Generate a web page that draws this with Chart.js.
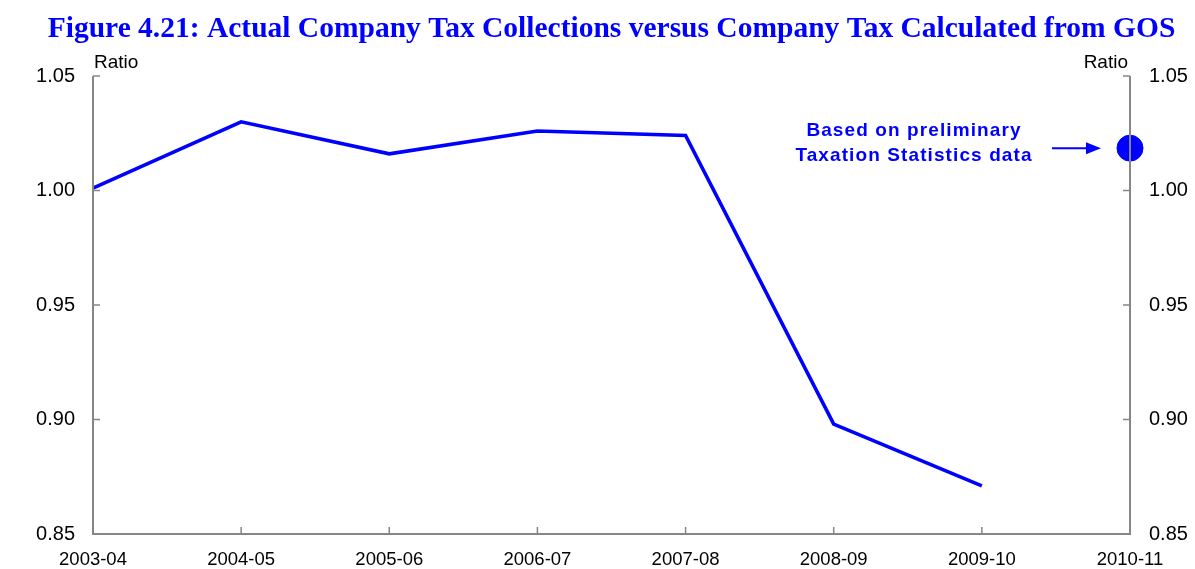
<!DOCTYPE html>
<html><head><meta charset="utf-8">
<script src="https://cdn.jsdelivr.net/npm/chart.js@4"></script>
<style>html,body{margin:0;padding:0;background:#fff}#wrap{width:1195px;height:569px}</style>
</head><body><div id="wrap"><canvas id="c"></canvas></div>
<script>
const categories = ['2003-04','2004-05','2005-06','2006-07','2007-08','2008-09','2009-10','2010-11'];
const ratioSeries = [1.001, 1.030, 1.016, 1.026, 1.024, 0.898, 0.871, null];
const preliminarySeries = [null, null, null, null, null, null, null, 1.0185];
const yTicks = [0.85, 0.90, 0.95, 1.00, 1.05];
const titleText = 'Figure 4.21: Actual Company Tax Collections versus Company Tax Calculated from GOS';
const axisUnit = 'Ratio';
const noteLines = ['Based on preliminary', 'Taxation Statistics data'];

const BLUE = '#0000FF';
const AXIS = '#868686';

const deco = {
  id: 'deco',
  afterDraw(chart) {
    const ctx = chart.ctx, a = chart.chartArea;
    const x = chart.scales.x, y = chart.scales.y;
    ctx.save();
    ctx.strokeStyle = AXIS; ctx.lineWidth = 2;
    ctx.beginPath();
    ctx.moveTo(a.left, a.top); ctx.lineTo(a.left, a.bottom); ctx.lineTo(a.right, a.bottom); ctx.lineTo(a.right, a.top);
    ctx.stroke();
    ctx.lineWidth = 1.5;
    ctx.beginPath();
    yTicks.forEach(v => {
      const py = y.getPixelForValue(v);
      ctx.moveTo(a.left, py); ctx.lineTo(a.left + 7, py);
      ctx.moveTo(a.right, py); ctx.lineTo(a.right - 7, py);
    });
    categories.forEach((c, i) => {
      const px = x.getPixelForValue(i);
      ctx.moveTo(px, a.bottom); ctx.lineTo(px, a.bottom - 7);
    });
    ctx.stroke();
    ctx.fillStyle = '#000';
    ctx.font = '19px "Liberation Sans", Arial, sans-serif';
    ctx.textBaseline = 'alphabetic';
    ctx.textAlign = 'left';
    ctx.fillText(axisUnit, a.left + 1, a.top - 8);
    ctx.textAlign = 'right';
    ctx.fillText(axisUnit, a.right - 2, a.top - 8);
    const meta = chart.getDatasetMeta(1);
    const pt = meta.data[categories.length - 1];
    if (pt) {
      ctx.fillStyle = BLUE;
      ctx.font = 'bold 19px "Liberation Sans", Arial, sans-serif';
      ctx.letterSpacing = '1.1px';
      ctx.textAlign = 'center';
      ctx.textBaseline = 'middle';
      ctx.fillText(noteLines[0], pt.x - 216, pt.y - 17);
      ctx.fillText(noteLines[1], pt.x - 216, pt.y + 8);
      ctx.letterSpacing = '0px';
      ctx.strokeStyle = BLUE; ctx.lineWidth = 2;
      ctx.beginPath();
      ctx.moveTo(pt.x - 78, pt.y); ctx.lineTo(pt.x - 42, pt.y);
      ctx.stroke();
      ctx.beginPath();
      ctx.moveTo(pt.x - 29, pt.y); ctx.lineTo(pt.x - 44, pt.y - 6); ctx.lineTo(pt.x - 44, pt.y + 6); ctx.closePath();
      ctx.fill();
    }
    ctx.restore();
  }
};

new Chart(document.getElementById('c'), {
  type: 'line',
  data: {
    labels: categories,
    datasets: [
      { data: ratioSeries, borderColor: BLUE, borderWidth: 3.6, pointRadius: 0, tension: 0, yAxisID: 'y', spanGaps: false },
      { data: preliminarySeries, borderColor: BLUE, backgroundColor: BLUE, showLine: false, pointRadius: 13, pointHoverRadius: 13, yAxisID: 'y2', clip: false }
    ]
  },
  options: {
    responsive: true, maintainAspectRatio: false, animation: false,
    layout: { padding: { top: 0, right: 0, left: 28, bottom: 0 } },
    plugins: {
      legend: { display: false }, tooltip: { enabled: false },
      title: {
        display: true, text: titleText, color: BLUE,
        font: { family: '"Liberation Serif", "Times New Roman", serif', size: 29.5, weight: 'bold', lineHeight: 1.2 },
        padding: { top: 12, bottom: 28.6 }
      }
    },
    scales: {
      x: {
        offset: false,
        grid: { display: false, drawTicks: false },
        border: { display: false },
        ticks: { color: '#000', font: { family: '"Liberation Sans", Arial, sans-serif', size: 18.5 }, maxRotation: 0, autoSkip: false, padding: 15 },
        afterFit(s) { s.height = 35; }
      },
      y: {
        position: 'left', min: 0.85, max: 1.05,
        grid: { display: false, drawTicks: false }, border: { display: false },
        afterBuildTicks(s) { s.ticks = yTicks.map(v => ({ value: v })); },
        ticks: { color: '#000', font: { family: '"Liberation Sans", Arial, sans-serif', size: 20 }, padding: 18, callback: v => v.toFixed(2) },
        afterFit(s) { s.width = 65; }
      },
      y2: {
        position: 'right', min: 0.85, max: 1.05,
        grid: { display: false, drawTicks: false }, border: { display: false },
        afterBuildTicks(s) { s.ticks = yTicks.map(v => ({ value: v })); },
        ticks: { color: '#000', font: { family: '"Liberation Sans", Arial, sans-serif', size: 20 }, padding: 19, callback: v => v.toFixed(2) },
        afterFit(s) { s.width = 65; }
      }
    }
  },
  plugins: [deco]
});
</script></body></html>
